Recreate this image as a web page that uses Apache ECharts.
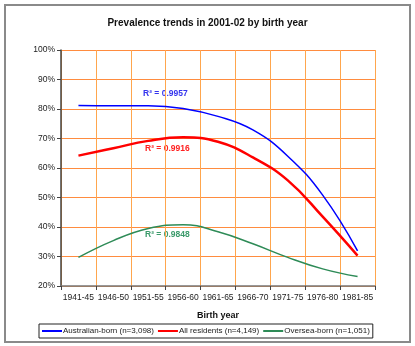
<!DOCTYPE html>
<html>
<head>
<meta charset="utf-8">
<script src="https://cdn.jsdelivr.net/npm/echarts@6/dist/echarts.min.js"></script>
<style>
  html, body { margin: 0; padding: 0; background: #fff; }
  #chart { width: 415px; height: 346px; }
</style>
</head>
<body>
<div id="chart"></div>
<script>
// Birth-year cohorts on the x axis
const birthYears = ['1941-45', '1946-50', '1951-55', '1956-60', '1961-65', '1966-70', '1971-75', '1976-80', '1981-85'];

// Prevalence (%) per cohort, fitted trend for each group
const australianBorn = [81.2, 81.1, 81.1, 80.2, 77.5, 72.9, 64.0, 50.8, 31.9];
const allResidents   = [64.2, 66.7, 69.2, 70.4, 68.9, 63.6, 55.8, 43.5, 30.3];
const overseaBorn    = [29.7, 35.4, 39.5, 40.8, 38.4, 34.3, 29.7, 25.8, 23.2];

const seriesNames = ['Australian-born (n=3,098)', 'All residents (n=4,149)', 'Oversea-born (n=1,051)'];
const fitLabels = ['R² = 0.9957', 'R² = 0.9916', 'R² = 0.9848'];

const FONT = 'Arial, "Liberation Sans", sans-serif';
const BLUE = '#0000FF', RED = '#FF0000', GREEN = '#2E8B57';

const chart = echarts.init(document.getElementById('chart'));
chart.setOption({
  animation: false,
  backgroundColor: '#fff',
  textStyle: { fontFamily: FONT },
  title: {
    text: 'Prevalence trends in 2001-02 by birth year',
    left: 'center',
    top: 13,
    textStyle: { fontSize: 10, fontWeight: 'bold', color: '#111', fontFamily: FONT }
  },
  grid: { left: 61, right: 40, top: 50, bottom: 60 },
  xAxis: {
    type: 'category',
    data: birthYears,
    boundaryGap: true,
    name: 'Birth year',
    nameLocation: 'middle',
    nameGap: 25,
    nameTextStyle: { fontSize: 9, fontWeight: 'bold', color: '#111' },
    axisLine: { lineStyle: { color: '#777', width: 1.5 } },
    axisTick: { show: true, length: 4, lineStyle: { color: '#444' } },
    axisLabel: { interval: 0, fontSize: 8.5, color: '#222', margin: 7 },
    splitLine: { show: true, lineStyle: { color: '#FFA64D', width: 1 } }
  },
  yAxis: {
    type: 'value',
    min: 20, max: 100, interval: 10,
    axisLine: { show: true, lineStyle: { color: '#444', width: 1.5 } },
    axisTick: { show: true, length: 4, lineStyle: { color: '#444' } },
    axisLabel: { formatter: '{value}%', fontSize: 8.5, color: '#222', margin: 6 },
    splitLine: { show: true, lineStyle: { color: '#FF8C3F', width: 1 } }
  },
  legend: {
    data: seriesNames,
    left: 39, top: 324,
    orient: 'horizontal',
    icon: 'rect',
    itemWidth: 20, itemHeight: 2,
    itemGap: 4,
    padding: [3, 3, 3, 3],
    borderColor: '#222', borderWidth: 1,
    textStyle: { fontSize: 8, color: '#222', padding: [0, 0, 0, -4] }
  },
  graphic: [
    { type: 'rect', shape: { x: 5, y: 5, width: 405, height: 337 },
      style: { fill: 'none', stroke: '#8a8a8a', lineWidth: 2 }, silent: true },
    { type: 'text', left: 143, top: 89,
      style: { text: fitLabels[0], fill: '#3333EE', font: 'bold 8.5px ' + FONT } },
    { type: 'text', left: 145, top: 144,
      style: { text: fitLabels[1], fill: '#FF2020', font: 'bold 8.5px ' + FONT } },
    { type: 'text', left: 145, top: 230,
      style: { text: fitLabels[2], fill: '#3A9A6A', font: 'bold 8.5px ' + FONT } }
  ],
  series: [
    { name: seriesNames[0], type: 'line', data: australianBorn, smooth: 0.45,
      symbol: 'none', lineStyle: { color: BLUE, width: 1.5 }, itemStyle: { color: BLUE }, z: 3 },
    { name: seriesNames[1], type: 'line', data: allResidents, smooth: 0.45,
      symbol: 'none', lineStyle: { color: RED, width: 2.5 }, itemStyle: { color: RED }, z: 2 },
    { name: seriesNames[2], type: 'line', data: overseaBorn, smooth: 0.45,
      symbol: 'none', lineStyle: { color: GREEN, width: 1.5 }, itemStyle: { color: GREEN }, z: 2 }
  ]
});
</script>
</body>
</html>
